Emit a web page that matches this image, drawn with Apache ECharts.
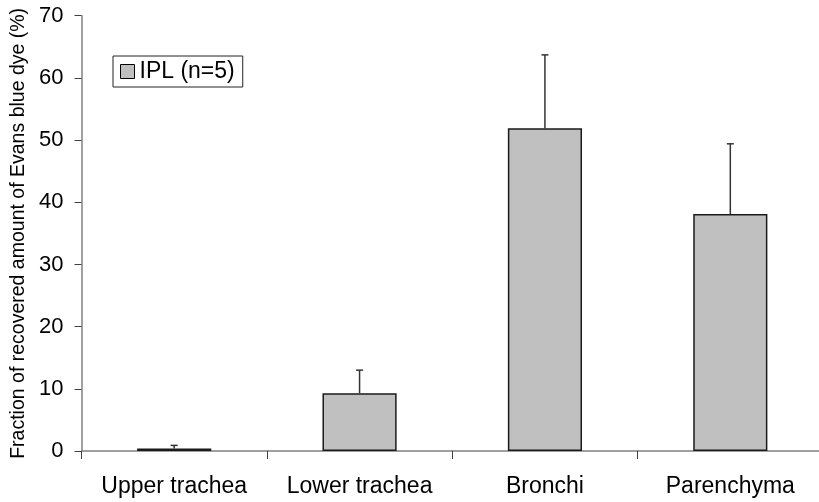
<!DOCTYPE html>
<html>
<head>
<meta charset="utf-8">
<script src="https://cdn.jsdelivr.net/npm/echarts@6/dist/echarts.min.js"></script>
<style>
  html, body { margin: 0; padding: 0; background: #fff; }
  #chart { width: 819px; height: 502px; }
</style>
</head>
<body>
<div id="chart"></div>
<script>
// Regions of the airway tree
const categories = ['Upper trachea', 'Lower trachea', 'Bronchi', 'Parenchyma'];
// Mean fraction of recovered Evans blue dye (%)
const means = [0.4, 9.3, 51.9, 38.1];
// Upper error (SD) above each mean (%)
const errors = [0.5, 3.7, 11.8, 11.3];
const seriesName = 'IPL (n=5)';
const yTicks = { min: 0, max: 70, interval: 10 };

const FONT = '"Liberation Sans", Arial, sans-serif';

const chart = echarts.init(document.getElementById('chart'), null, { renderer: 'canvas' });

const errorData = categories.map((c, i) => [i, means[i], means[i] + errors[i]]);

chart.setOption({
  animation: false,
  backgroundColor: '#fff',
  textStyle: { fontFamily: FONT, color: '#000' },
  grid: {
    left: 81.5, right: -4, top: 15.7, bottom: 51,
    containLabel: false,
    outerBoundsMode: 'none'
  },
  legend: {
    data: [{ name: seriesName, icon: 'rect' }],
    left: 113,
    top: 56,
    orient: 'horizontal',
    itemWidth: 14,
    itemHeight: 14,
    padding: [4, 8, 4, 7],
    borderColor: '#222',
    borderWidth: 1,
    itemStyle: { borderColor: '#000', borderWidth: 1 },
    textStyle: { fontFamily: FONT, fontSize: 23, color: '#000' },
    selectedMode: false
  },
  xAxis: {
    type: 'category',
    data: categories,
    boundaryGap: true,
    axisLine: { lineStyle: { color: '#808080', width: 1.5 } },
    axisTick: { show: true, length: 8, alignWithLabel: false, lineStyle: { color: '#404040', width: 1 } },
    axisLabel: { fontFamily: FONT, fontSize: 23, color: '#000', margin: 24, interval: 0 }
  },
  yAxis: {
    type: 'value',
    min: yTicks.min,
    max: yTicks.max,
    interval: yTicks.interval,
    name: 'Fraction of recovered amount of Evans blue dye (%)',
    nameLocation: 'middle',
    nameGap: 53,
    nameTextStyle: { fontFamily: FONT, fontSize: 19.5, color: '#000' },
    axisLine: { show: true, lineStyle: { color: '#808080', width: 1.5 } },
    axisTick: { show: true, length: 7, lineStyle: { color: '#404040', width: 1 } },
    axisLabel: { fontFamily: FONT, fontSize: 22, color: '#000', margin: 18 },
    splitLine: { show: false }
  },
  series: [
    {
      name: seriesName,
      type: 'bar',
      data: means,
      barWidth: '40%',
      itemStyle: { color: '#c0c0c0', borderColor: '#1a1a1a', borderWidth: 1.5 },
      z: 2
    },
    {
      name: 'error',
      type: 'custom',
      data: errorData,
      z: 3,
      silent: true,
      renderItem: function (params, api) {
        const base = api.coord([api.value(0), api.value(1)]);
        const top = api.coord([api.value(0), api.value(2)]);
        const style = { stroke: '#333', lineWidth: 1.5 };
        return {
          type: 'group',
          children: [
            { type: 'line', shape: { x1: base[0], y1: base[1], x2: top[0], y2: top[1] }, style: style },
            { type: 'line', shape: { x1: top[0] - 3.5, y1: top[1], x2: top[0] + 3.5, y2: top[1] }, style: style }
          ]
        };
      }
    }
  ]
});
</script>
</body>
</html>
